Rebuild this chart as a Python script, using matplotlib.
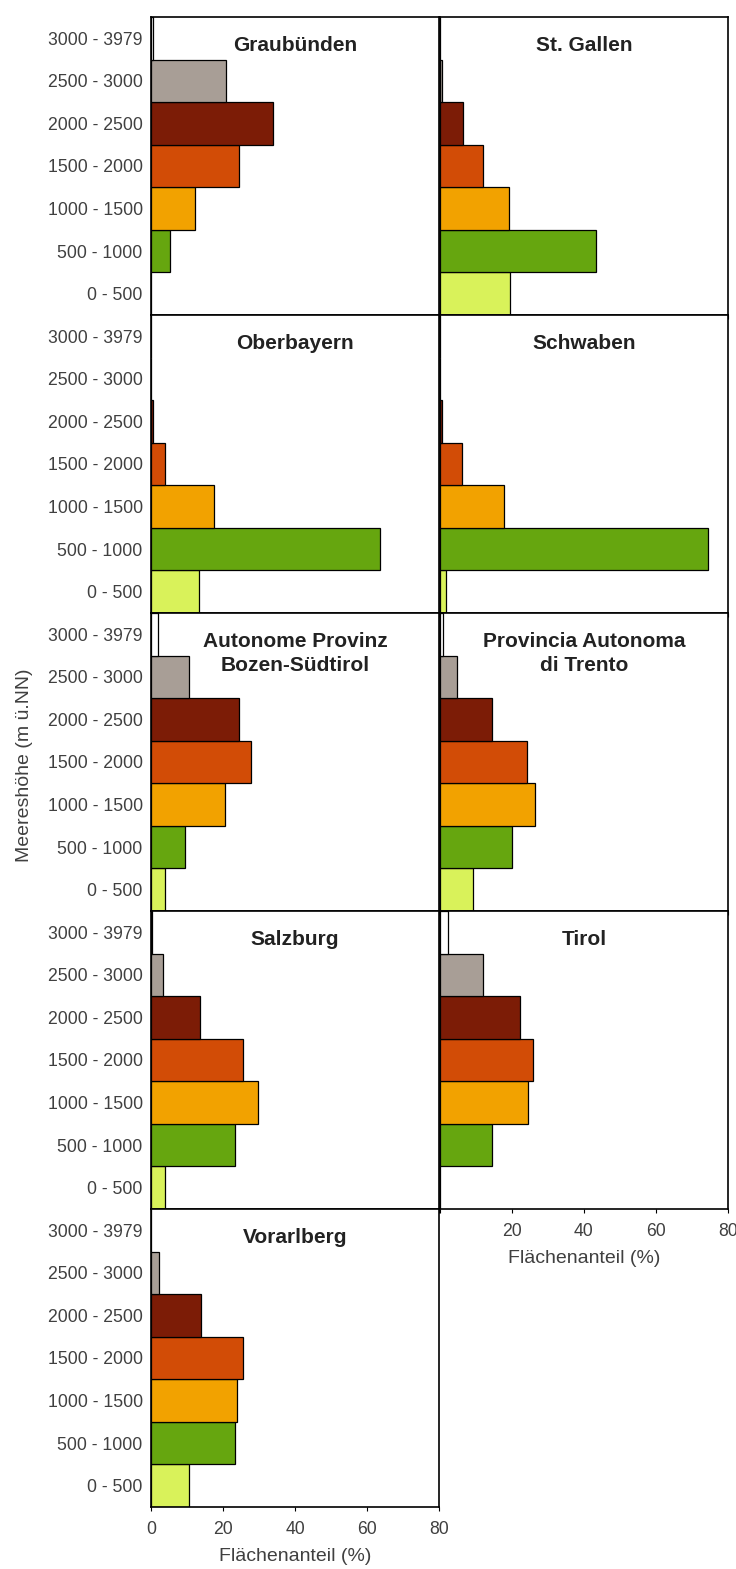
import matplotlib
matplotlib.use("Agg")
import matplotlib.pyplot as plt
import numpy as np

plt.rcParams["font.family"] = ["Liberation Sans", "DejaVu Sans"]

# Höhenstufen, von unten nach oben
stufen = ["0 - 500", "500 - 1000", "1000 - 1500", "1500 - 2000",
          "2000 - 2500", "2500 - 3000", "3000 - 3979"]
farben = ["#d9f25a", "#66a60f", "#f2a200", "#d24c06",
          "#7c1c06", "#a89e96", "#ffffff"]

# Flächenanteil (%) je Höhenstufe
graubuenden = [0.0, 5.4, 12.3, 24.5, 34.0, 20.9, 0.6]
st_gallen = [19.5, 43.3, 19.3, 11.9, 6.3, 0.5, 0.0]
oberbayern = [13.2, 63.7, 17.4, 3.8, 0.6, 0.1, 0.0]
schwaben = [1.6, 74.4, 17.8, 6.0, 0.6, 0.0, 0.0]
bozen = [4.0, 9.5, 20.6, 27.9, 24.5, 10.6, 1.9]
trento = [9.1, 20.1, 26.4, 24.1, 14.4, 4.6, 0.9]
salzburg = [4.0, 23.4, 29.8, 25.6, 13.7, 3.2, 0.2]
tirol = [0.0, 14.4, 24.4, 25.9, 22.3, 11.9, 2.1]
vorarlberg = [10.6, 23.2, 23.8, 25.6, 13.9, 2.1, 0.0]

regionen = [
    ("Graubünden", graubuenden),
    ("St. Gallen", st_gallen),
    ("Oberbayern", oberbayern),
    ("Schwaben", schwaben),
    ("Autonome Provinz\nBozen-Südtirol", bozen),
    ("Provincia Autonoma\ndi Trento", trento),
    ("Salzburg", salzburg),
    ("Tirol", tirol),
    ("Vorarlberg", vorarlberg),
]

W, H = 736, 1569
fig = plt.figure(figsize=(W / 100, H / 100), dpi=100)

col_x = [151, 440]
col_w = 288
row_top = 17
row_h = 298

tick_color = "#404040"
y = np.arange(len(stufen))

for i, (name, werte) in enumerate(regionen):
    r, c = divmod(i, 2)
    top = row_top + r * row_h
    ax = fig.add_axes([col_x[c] / W, 1 - (top + row_h) / H, col_w / W, row_h / H])
    ax.barh(y, werte, height=1.0, color=farben, edgecolor="black", linewidth=0.9)
    ax.set_xlim(0, 80)
    ax.set_ylim(-0.5, len(stufen) - 0.5)
    for s in ax.spines.values():
        s.set_linewidth(1.2)
    ax.set_xticks([0, 20, 40, 60, 80])
    ax.tick_params(axis="x", direction="out", length=3, width=0.8, pad=7,
                   colors="black", labelcolor=tick_color, labelsize=12.7)
    ax.tick_params(axis="y", length=0, labelcolor=tick_color, labelsize=12.7, pad=6)
    ax.set_yticks(y)
    if c == 0:
        ax.set_yticklabels(stufen)
    else:
        ax.set_yticklabels([])
    if name in ("Vorarlberg", "Tirol"):
        if name == "Tirol":
            ax.set_xticklabels(["", "20", "40", "60", "80"])
        ax.set_xlabel("Flächenanteil (%)", fontsize=14, color=tick_color, labelpad=7)
    else:
        ax.set_xticklabels([])
    ax.text(0.5, 0.935, name, transform=ax.transAxes, ha="center", va="top",
            fontsize=15, fontweight="bold", color="#222222", linespacing=1.3)

fig.text(25 / W, 1 - 765 / H, "Meereshöhe (m ü.NN)", rotation=90,
         ha="center", va="center", fontsize=14, color=tick_color)

fig.savefig("out.png", dpi=100, facecolor="white")
